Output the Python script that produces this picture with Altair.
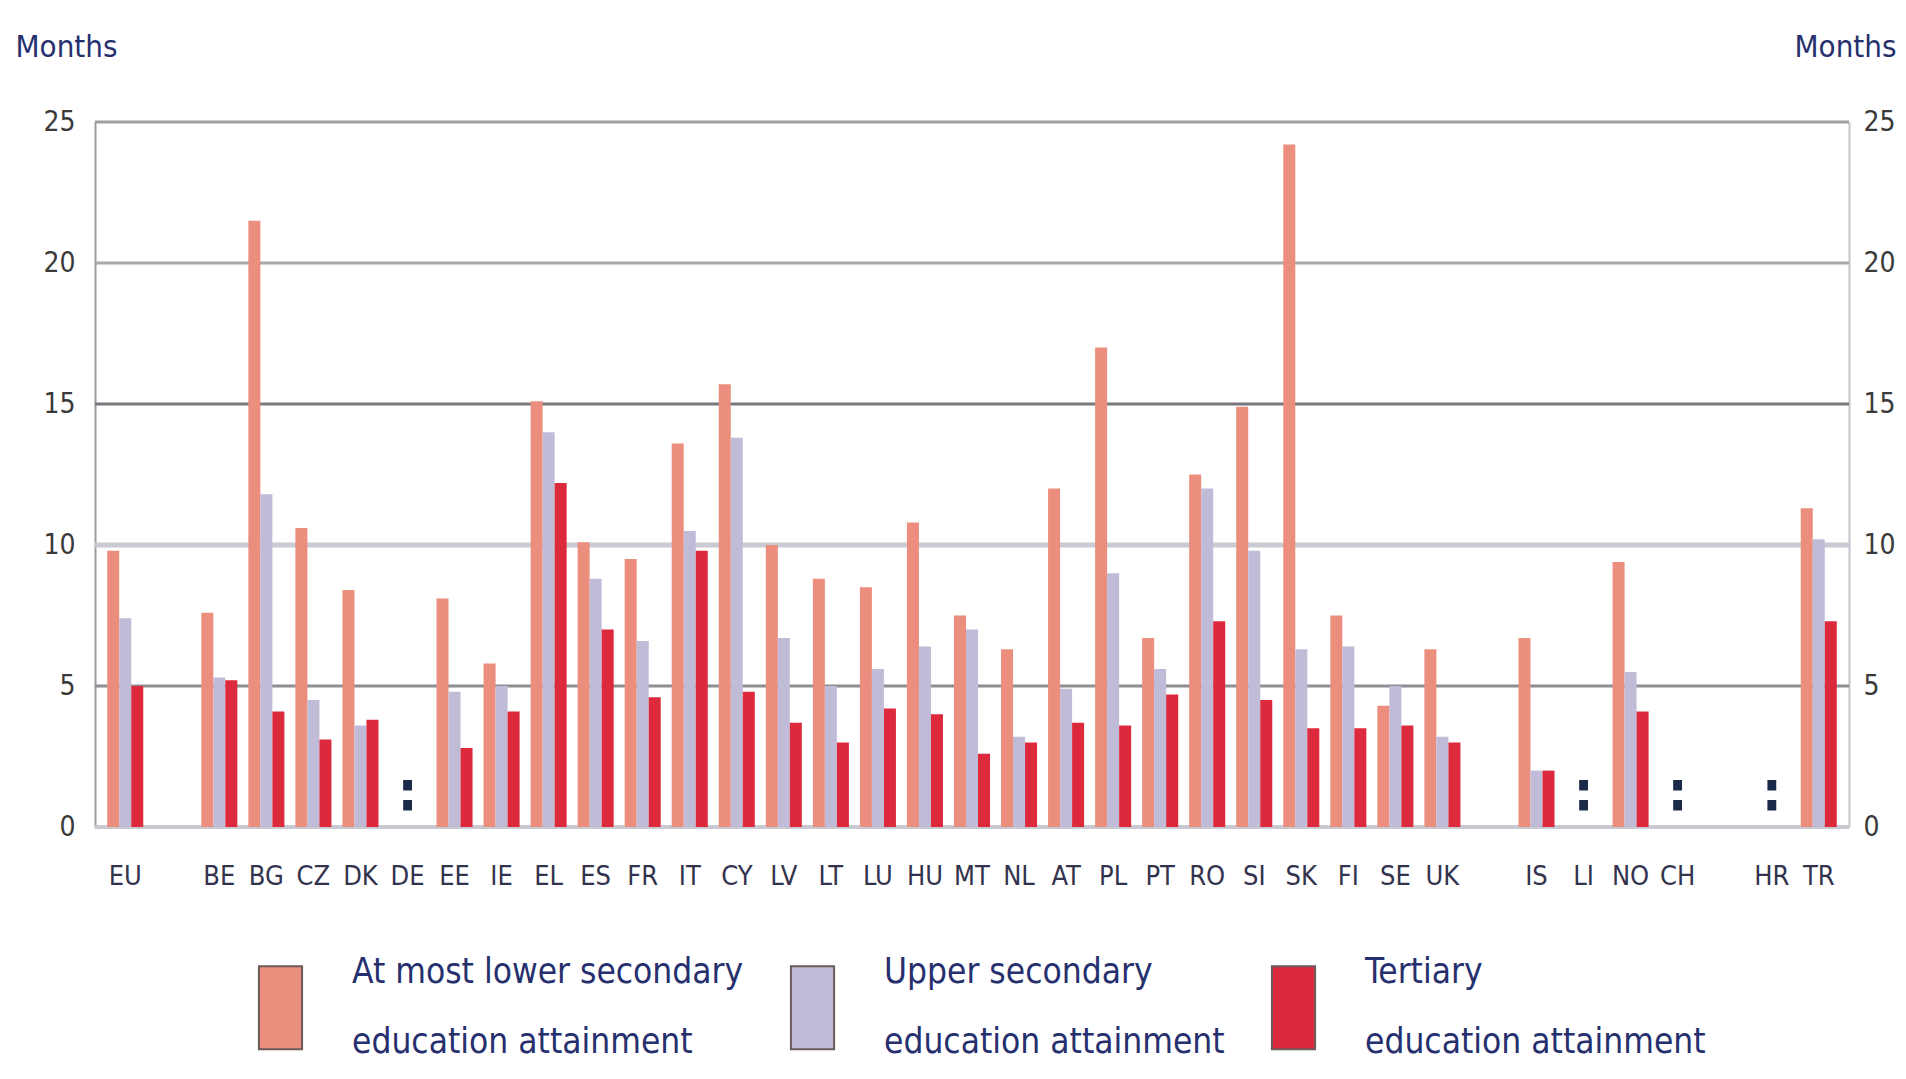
import altair as alt
import pandas as pd

# ---------------- data ----------------
countries = ["EU", "_1", "BE", "BG", "CZ", "DK", "DE", "EE", "IE", "EL", "ES", "FR", "IT",
             "CY", "LV", "LT", "LU", "HU", "MT", "NL", "AT", "PL", "PT", "RO", "SI", "SK",
             "FI", "SE", "UK", "_2", "IS", "LI", "NO", "CH", "_3", "HR", "TR"]
lower = [9.8, None, 7.6, 21.5, 10.6, 8.4, None, 8.1, 5.8, 15.1, 10.1, 9.5, 13.6,
         15.7, 10.0, 8.8, 8.5, 10.8, 7.5, 6.3, 12.0, 17.0, 6.7, 12.5, 14.9, 24.2,
         7.5, 4.3, 6.3, None, 6.7, None, 9.4, None, None, None, 11.3]
upper = [7.4, None, 5.3, 11.8, 4.5, 3.6, None, 4.8, 5.0, 14.0, 8.8, 6.6, 10.5,
         13.8, 6.7, 5.0, 5.6, 6.4, 7.0, 3.2, 4.9, 9.0, 5.6, 12.0, 9.8, 6.3,
         6.4, 5.0, 3.2, None, 2.0, None, 5.5, None, None, None, 10.2]
tertiary = [5.0, None, 5.2, 4.1, 3.1, 3.8, None, 2.8, 4.1, 12.2, 7.0, 4.6, 9.8,
            4.8, 3.7, 3.0, 4.2, 4.0, 2.6, 3.0, 3.7, 3.6, 4.7, 7.3, 4.5, 3.5,
            3.5, 3.6, 3.0, None, 2.0, None, 4.1, None, None, None, 7.3]
missing_countries = ["DE", "LI", "CH", "HR"]
missing_level = [0.6, 0.6, 0.6, 0.6]
series_names = ["At most lower secondary", "Upper secondary", "Tertiary"]
y_ticks = [0, 5, 10, 15, 20, 25]

# ---------------- styles ----------------
series_colors = ["#ec8e7e", "#c0bcd8", "#dc2a3c"]
grid_colors = ["#c9c9d1", "#8e8e94", "#cacad4", "#77777d", "#a8a8ac", "#9d9da2"]
grid_widths = [4, 3, 5, 3, 3, 3]
NARROW = "DejaVu Sans Condensed, Liberation Sans Narrow, sans-serif"
NAVY = "#26306e"

rows = []
for i, c in enumerate(countries):
    for s, vals in zip(series_names, [lower, upper, tertiary]):
        if vals[i] is not None:
            rows.append({"country": c, "series": s, "months": vals[i]})
bars_df = pd.DataFrame(rows)
miss_df = pd.DataFrame({"country": missing_countries, "months": missing_level,
                        "label": [":"] * len(missing_countries)})

W, H = 1754, 705
yscale = alt.Scale(domain=[0, 25], nice=False, zero=True)
xscale = alt.Scale(domain=countries, paddingInner=0.234, paddingOuter=0.26)

x_axis = alt.Axis(title=None, labelExpr="indexof(datum.label, '_') == 0 ? '' : datum.label",
                  labelFont=NARROW, labelFontSize=27, labelColor="#33334d",
                  labelPadding=36, labelAngle=0, ticks=False, domain=False, grid=False,
                  labelBaseline="top")

left_axis = alt.Axis(orient="left", values=y_ticks, title="Months", titleAngle=0,
                     titleAlign="left", titleBaseline="top", titleX=-80, titleY=-90,
                     titleFont=NARROW, titleFontSize=31, titleFontWeight="normal",
                     titleColor=NAVY, labelFont=NARROW, labelFontSize=28,
                     labelColor="#3a3a3a", labelPadding=20, ticks=False, grid=False,
                     domainColor="#9c9ca4", domainWidth=2)

right_axis = alt.Axis(orient="right", values=y_ticks, title="Months", titleAngle=0,
                      titleAlign="right", titleBaseline="top", titleX=47, titleY=-90,
                      titleFont=NARROW, titleFontSize=31, titleFontWeight="normal",
                      titleColor=NAVY, labelFont=NARROW, labelFontSize=28,
                      labelColor="#3a3a3a", labelPadding=14, ticks=False, grid=False,
                      domainColor="#c4c4cc", domainWidth=2)

legend = alt.Legend(title=None, orient="none", legendX=143, legendY=843,
                    direction="horizontal", columnPadding=26, padding=0,
                    symbolType="M-0.52,-1H0.52V1H-0.52Z", symbolSize=6889,
                    symbolStrokeColor="#6b5a5a", symbolStrokeWidth=2, symbolOpacity=1,
                    labelExpr="[datum.label, 'education attainment']",
                    labelFont=NARROW, labelFontSize=35, labelColor=NAVY,
                    labelBaseline="line-bottom",
                    labelOffset=29, labelLimit=0)

layers = []
for k, (v, c, w) in enumerate(zip(y_ticks, grid_colors, grid_widths)):
    layers.append(
        alt.Chart(pd.DataFrame({"v": [v]})).mark_rule(color=c, strokeWidth=w).encode(
            y=alt.Y("v:Q", scale=yscale, axis=right_axis if k == 0 else None)
        )
    )

bars = alt.Chart(bars_df).mark_bar().encode(
    x=alt.X("country:N", sort=countries, scale=xscale, axis=x_axis),
    xOffset=alt.XOffset("series:N", sort=series_names,
                        scale=alt.Scale(domain=series_names, paddingInner=0, paddingOuter=0)),
    y=alt.Y("months:Q", scale=yscale, axis=left_axis),
    color=alt.Color("series:N", sort=series_names,
                    scale=alt.Scale(domain=series_names, range=series_colors),
                    legend=legend),
)

colons = alt.Chart(miss_df).mark_text(font=NARROW, fontSize=56, fontWeight="bold",
                                      color="#1c2a4a", baseline="alphabetic").encode(
    x=alt.X("country:N", sort=countries, scale=xscale, axis=x_axis),
    y=alt.Y("months:Q", scale=yscale, axis=None),
    text="label:N",
)

chart = alt.layer(*layers, bars, colons).resolve_scale(y="shared").resolve_axis(
    y="independent"
).properties(
    width=W, height=H,
    autosize=alt.AutoSizeParams(type="none"),
    padding={"left": 87, "top": 114, "right": 48, "bottom": 240},
).configure_view(stroke=None).configure(
    style={"guide-label": {"lineHeight": 70}}
)

chart.save("out.html", embed_options={"renderer": "svg", "actions": False})
